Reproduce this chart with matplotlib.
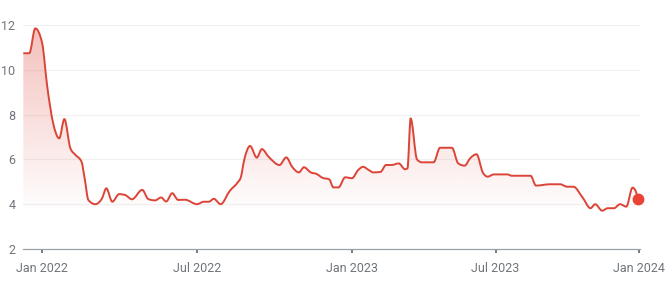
import numpy as np
import matplotlib
matplotlib.use('Agg')
import matplotlib.pyplot as plt
import matplotlib.dates as mdates
from matplotlib.path import Path
from matplotlib.patches import PathPatch

plt.rcParams['font.family'] = ['Roboto', 'DejaVu Sans']

dates = [
    '2021-12-10', '2021-12-17', '2021-12-24', '2022-01-01', '2022-01-07', '2022-01-14',
    '2022-01-21', '2022-01-27', '2022-02-03', '2022-02-09', '2022-02-16', '2022-02-20',
    '2022-02-24', '2022-03-04', '2022-03-12', '2022-03-17', '2022-03-24', '2022-04-01',
    '2022-04-08', '2022-04-16', '2022-04-28', '2022-05-05', '2022-05-13', '2022-05-20',
    '2022-05-26', '2022-06-02', '2022-06-09', '2022-06-17', '2022-07-01', '2022-07-09',
    '2022-07-15', '2022-07-21', '2022-07-29', '2022-08-09', '2022-08-18', '2022-08-22',
    '2022-08-26', '2022-09-02', '2022-09-10', '2022-09-16', '2022-09-24', '2022-10-07',
    '2022-10-15', '2022-10-22', '2022-10-30', '2022-11-05', '2022-11-13', '2022-11-20',
    '2022-11-27', '2022-12-05', '2022-12-10', '2022-12-16', '2022-12-24', '2023-01-01',
    '2023-01-09', '2023-01-15', '2023-01-22', '2023-01-28', '2023-02-06', '2023-02-13',
    '2023-02-20', '2023-03-01', '2023-03-09', '2023-03-12', '2023-03-16', '2023-03-24',
    '2023-03-30', '2023-04-14', '2023-04-22', '2023-05-07', '2023-05-15', '2023-05-23',
    '2023-05-30', '2023-06-07', '2023-06-15', '2023-06-21', '2023-06-29', '2023-07-16',
    '2023-07-22', '2023-08-15', '2023-08-22', '2023-09-09', '2023-09-22', '2023-10-01',
    '2023-10-09', '2023-10-21', '2023-10-31', '2023-11-06', '2023-11-15', '2023-11-22',
    '2023-11-30', '2023-12-08', '2023-12-16', '2023-12-24', '2023-12-28', '2023-12-31',
]
values = [
    10.74, 10.74, 11.85, 11.2, 9.25, 7.6,
    6.94, 7.8, 6.5, 6.2, 5.9, 5.08,
    4.19, 4.0, 4.26, 4.71, 4.11, 4.45,
    4.41, 4.22, 4.64, 4.23, 4.17, 4.3,
    4.12, 4.49, 4.19, 4.2, 4.0, 4.11,
    4.11, 4.24, 4.0, 4.6, 4.96, 5.2,
    5.97, 6.6, 6.08, 6.46, 6.12, 5.75,
    6.09, 5.67, 5.42, 5.65, 5.42, 5.35,
    5.18, 5.11, 4.75, 4.75, 5.2, 5.16,
    5.53, 5.67, 5.53, 5.42, 5.44, 5.75,
    5.75, 5.82, 5.56, 5.6, 7.83, 6.0,
    5.87, 5.87, 6.52, 6.52, 5.82, 5.72,
    6.05, 6.23, 5.41, 5.23, 5.33, 5.33,
    5.27, 5.27, 4.83, 4.89, 4.89, 4.78,
    4.78, 4.29, 3.82, 4.0, 3.71, 3.82,
    3.82, 4.0, 3.89, 4.74, 4.59, 4.25,
]

tick_dates = ['2022-01-01', '2022-07-01', '2023-01-01', '2023-07-01', '2024-01-01']
tick_labels = ['Jan 2022', 'Jul 2022', 'Jan 2023', 'Jul 2023', 'Jan 2024']
y_ticks = [2, 4, 6, 8, 10, 12]

red = '#db4437'
grey_text = '#70757a'

# the source draws the 2022 half-years a bit wider than the 2023 ones
stretch_dates = mdates.datestr2num(['2021-12-01', '2022-01-01', '2022-07-01', '2023-01-01',
                                    '2023-07-01', '2024-01-01', '2024-02-01'])
stretch_pos = [-26.5, 0, 155, 310, 453.7, 597, 621.1]


def fwd(x):
    return np.interp(x, stretch_dates, stretch_pos)


def inv(p):
    return np.interp(p, stretch_pos, stretch_dates)


def smooth_path(xs, ys):
    # monotone cubic (like d3 curveMonotoneX) as bezier segments
    h = np.diff(xs)
    s = np.diff(ys) / h
    m = np.zeros(len(xs))
    m[0], m[-1] = s[0], s[-1]
    for i in range(1, len(xs) - 1):
        if s[i - 1] * s[i] <= 0:
            m[i] = 0
        else:
            p = (s[i - 1] * h[i] + s[i] * h[i - 1]) / (h[i - 1] + h[i])
            m[i] = np.sign(s[i]) * min(abs(s[i - 1]), abs(s[i]), 0.5 * abs(p)) * 2
    verts = [(xs[0], ys[0])]
    codes = [Path.MOVETO]
    for i in range(len(xs) - 1):
        d = h[i] / 3
        verts += [(xs[i] + d, ys[i] + m[i] * d),
                  (xs[i + 1] - d, ys[i + 1] - m[i + 1] * d),
                  (xs[i + 1], ys[i + 1])]
        codes += [Path.CURVE4] * 3
    return verts, codes


x = mdates.datestr2num(dates)
y = np.array(values)

fig = plt.figure(figsize=(6.72, 2.87), dpi=100)
ax = fig.add_axes([0.0347, 0.1324, 0.917, 0.7805])
ax.set_xscale('function', functions=(fwd, inv))

ymin, ymax = 2, 12
fill_base = 3.6
ax.set_ylim(ymin, ymax)
ax.set_xlim(x[0], mdates.datestr2num('2024-01-02'))

for t in y_ticks[1:]:
    ax.axhline(t, color='#f1f1f1', lw=0.9, zorder=0)

verts, codes = smooth_path(x, y)
line_path = Path(verts, codes)
area_path = Path(verts + [(x[-1], fill_base), (x[0], fill_base), (x[0], y[0])],
                 codes + [Path.LINETO, Path.LINETO, Path.CLOSEPOLY])

grad = np.zeros((256, 1, 4))
grad[:, 0, 0] = 219 / 255
grad[:, 0, 1] = 68 / 255
grad[:, 0, 2] = 55 / 255
grad[:, 0, 3] = np.linspace(0.34, 0.0, 256)
img = ax.imshow(grad, aspect='auto', transform=ax.transAxes,
                extent=[0, 1, (fill_base - ymin) / (ymax - ymin), 1.0],
                origin='upper', zorder=1)
img.set_clip_path(area_path, transform=ax.transData)

ax.add_patch(PathPatch(line_path, fill=False, edgecolor=red, lw=1.4,
                       joinstyle='round', zorder=3, clip_on=False))
ax.plot(x[-1], y[-1], 'o', color='#ea4335', ms=7.5, zorder=4, clip_on=False)

for s in ['top', 'right', 'left']:
    ax.spines[s].set_visible(False)
ax.spines['bottom'].set_color('#9aa0a6')
ax.spines['bottom'].set_linewidth(0.9)

ax.set_xticks(mdates.datestr2num(tick_dates))
ax.set_xticklabels(tick_labels)
ax.set_yticks(y_ticks)
ax.set_yticklabels([str(t) for t in y_ticks])
ax.tick_params(axis='x', length=3, width=1.2, color='#5f6368', pad=6.5,
               labelsize=9, labelcolor=grey_text)
ax.tick_params(axis='y', length=0, pad=5.8, labelsize=9, labelcolor=grey_text)
ax.minorticks_off()

fig.savefig('out.png', dpi=100)
